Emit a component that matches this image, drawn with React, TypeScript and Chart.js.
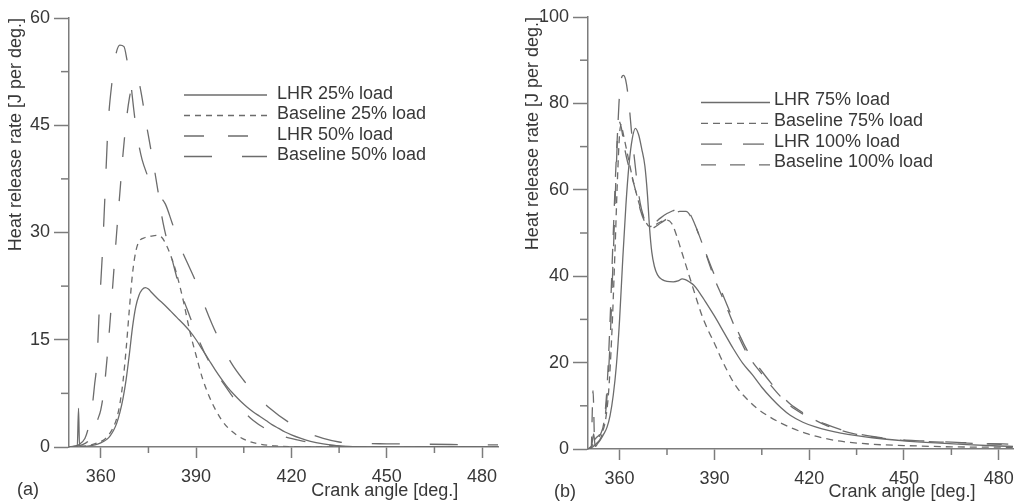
import React, { useEffect, useRef } from "react";
import { Chart, registerables } from "chart.js";

Chart.register(...registerables);

type Pt = [number, number];

// ---------- Panel (a) data: crank angle [deg], heat release rate [J/deg] ----------
const lhr25: Pt[] = [
  [350, 0], [352.6, 0], [353, 5.4], [353.3, 0.2], [355, 0.1], [357, 0.2], [359, 0.4], [361, 0.8],
  [362, 1.1], [363, 1.6], [364, 2.3], [365, 3.3], [366, 4.8], [367, 6.8], [368, 9.5], [369, 13],
  [370, 16.8], [371, 19.6], [372, 21.2], [373, 22], [374, 22.3], [375, 22.1], [376, 21.6], [378, 20.7],
  [380, 19.9], [382, 19], [384, 18.1], [386, 17.2], [388, 16.2], [390, 15], [392, 13.6], [394, 12.2],
  [396, 10.8], [398, 9.5], [400, 8.3], [402, 7.3], [404, 6.4], [406, 5.6], [408, 4.9], [410, 4.3],
  [412, 3.7], [414, 3.1], [416, 2.6], [418, 2.1], [420, 1.7], [423, 1.2], [426, 0.8], [430, 0.45],
  [435, 0.15], [440, 0.05], [450, 0], [485, 0],
];
const base25: Pt[] = [
  [350, 0], [354, 0.1], [357, 0.3], [359, 0.6], [361, 1], [362, 1.4], [363, 2], [364, 2.8], [365, 4],
  [366, 6], [367, 9.2], [368, 13.8], [369, 19.3], [370, 24.3], [371, 27.3], [372, 28.7], [374, 29.3],
  [376, 29.5], [378, 29.6], [379, 29.4], [380, 28.8], [382, 26.8], [384, 24], [386, 20.4], [388, 16.2],
  [390, 12.8], [392, 9.6], [394, 7.2], [396, 5.3], [398, 3.8], [400, 2.7], [403, 1.6], [406, 0.9],
  [410, 0.4], [415, 0.15], [420, 0.05], [430, 0], [485, 0],
];
const lhr50: Pt[] = [
  [350, 0], [354, 0.3], [356, 0.8], [357, 1.5], [358, 2.5], [359, 3.8], [360, 5.2], [361, 8],
  [362, 12.5], [363, 18], [364, 24], [365, 30], [366, 35.5], [367, 41], [368, 45.5], [369, 48.8],
  [370, 50.6], [371, 51.4], [372, 51], [373, 48.8], [374, 46], [375, 43.5], [376, 41], [377, 38.5],
  [378, 35.8], [379, 32.8], [380, 30.5], [382, 27], [385, 22], [388, 18.3], [391, 14.8], [394, 12],
  [397, 9.9], [400, 8], [404, 5.5], [408, 3.7], [413, 2.3], [418, 1.4], [424, 0.8], [430, 0.35],
  [436, 0.1], [445, 0], [485, 0],
];
const base50: Pt[] = [
  [350, 0], [353, 0.3], [355, 1.2], [356, 2.5], [357, 4.5], [358, 8.5], [358.8, 12], [359.5, 19],
  [360, 23], [360.5, 27], [361.3, 35], [362.3, 45], [363.6, 51.3], [364.7, 54.8], [366, 56.2],
  [367.3, 56], [368.3, 54], [369.2, 51.8], [370.3, 47.5], [371.2, 44.3], [372, 42.2], [373, 40.2],
  [374.5, 38.2], [376, 36.5], [378, 35.3], [380.3, 34], [382.4, 31.4], [385, 28], [387.2, 25.8],
  [390, 23], [392.2, 20.3], [395, 17.2], [397.5, 14.8], [401, 11.8], [405, 9.3], [409, 7.2],
  [413, 5.5], [419, 3.5], [425, 2], [430, 1.2], [435, 0.7], [440, 0.5], [450, 0.45], [460, 0.4],
  [470, 0.35], [485, 0.3],
];

// ---------- Panel (b) data ----------
const lhr75: Pt[] = [
  [350, 0], [351, 0.2], [351.8, 3.5], [352.3, 0.6], [353, 1.2], [354, 2.2], [355, 3.5], [356, 5],
  [357, 7.8], [358, 12.5], [359, 19.5], [360, 30], [361, 44], [362, 56.5], [363, 66], [364, 71.8],
  [365, 74.2], [366, 72.8], [367, 69.5], [368, 65.5], [368.8, 59], [369.5, 51], [370.2, 45.5],
  [371, 42.3], [372, 40.3], [373.5, 39.2], [375, 38.8], [377, 38.7], [378.5, 38.9], [379.8, 39.4],
  [380.8, 39.2], [382, 38.7], [383.5, 37.9], [385, 36.5], [387, 34.3], [390, 30.8], [393, 27],
  [396, 23.2], [399, 19.8], [402, 17.2], [405, 14.3], [408, 11.8], [411, 9.6], [414, 7.8], [418, 6.2],
  [422, 5.1], [426, 4.3], [430, 3.7], [435, 3.1], [440, 2.6], [450, 1.9], [460, 1.4], [470, 1.0],
  [480, 0.7], [484.5, 0.6],
];
const base75: Pt[] = [
  [350, 0], [351.5, 1], [352.5, 2.5], [353.5, 3.2], [354.5, 4], [355.5, 6.5], [356.5, 13], [357.5, 26],
  [358.5, 45], [359.3, 62], [360, 73], [360.5, 75], [361, 73.5], [362, 70], [363, 66.5], [364, 63],
  [365, 60], [366.5, 56], [368, 53], [369.5, 51.5], [371, 51.8], [373, 52.6], [375, 53], [376.5, 52.2],
  [378, 49.5], [379.5, 46], [381, 42.5], [382.5, 39], [384, 35.5], [386, 31], [388, 27.5], [390, 24.5],
  [392, 21.2], [394, 18.2], [396, 15.5], [398, 13.4], [400, 11.8], [403, 9.7], [406, 8.1], [410, 6.4],
  [414, 5], [419, 3.6], [424, 2.6], [430, 1.8], [440, 1.1], [450, 0.8], [465, 0.5], [484.5, 0.4],
];
const lhr100: Pt[] = [
  [350, 0], [351.5, 0.5], [353, 1.5], [354, 2.5], [355, 5], [356, 12], [357, 25], [358, 45], [359, 66],
  [359.8, 80], [360.5, 85.5], [361.2, 86.5], [361.9, 85.5], [362.9, 80.5], [363.7, 74], [364.5, 68.5],
  [365.5, 62], [366.5, 57], [367.5, 54], [368.5, 52.2], [369.5, 51.5], [371, 52.3], [373, 53.5],
  [375, 54.5], [377, 55.2], [379, 55.8], [380.5, 56], [382, 54.8], [384, 51.7], [386, 47.8], [388, 44],
  [390, 40.3], [392.5, 36], [395, 31.6], [398, 26.3], [401, 22], [405, 18], [408, 15.2], [411, 12.6],
  [414, 10.4], [418, 8.4], [421, 7.2], [425, 5.8], [430, 4.5], [435, 3.6], [440, 2.9], [448, 2.2],
  [455, 1.9], [465, 1.6], [475, 1.3], [484.5, 1.1],
];
const base100: Pt[] = [
  [350, 0], [351, 0.3], [351.6, 13.5], [352.1, 2], [353, 2.5], [354, 3.5], [355, 6], [356, 14], [357, 30],
  [358, 50], [359, 68], [359.7, 76], [360.5, 74.5], [361.5, 70], [362.5, 66.5], [363.5, 64], [365, 60],
  [366.5, 55.5], [368, 52.5], [369.5, 51], [371, 51.3], [373, 52.3], [375, 53.3], [377, 54.2], [379, 55],
  [381, 55], [383, 53.2], [385, 49.8], [387, 45.8], [390, 39.5], [392.5, 35.2], [395, 30.8], [398, 25.5],
  [401, 21.3], [405, 17.4], [408, 14.6], [411, 12.1], [414, 10], [418, 8.1], [421, 7], [425, 5.6],
  [430, 4.3], [435, 3.4], [440, 2.8], [448, 2.1], [455, 1.8], [465, 1.5], [475, 1.2], [484.5, 1.0],
];

// ---------- Labels and ticks ----------
const labelsA = ["LHR 25% load", "Baseline 25% load", "LHR 50% load", "Baseline 50% load"];
const labelsB = ["LHR 75% load", "Baseline 75% load", "LHR 100% load", "Baseline 100% load"];
const xTicks = [360, 390, 420, 450, 480];
const xMinor = [375, 405, 435, 465];
const yTicksA = [0, 15, 30, 45, 60];
const yMinorA = [7.5, 22.5, 37.5, 52.5];
const yTicksB = [0, 20, 40, 60, 80, 100];
const yMinorB = [10, 30, 50, 70, 90];
const xTitle = "Crank angle [deg.]";
const yTitle = "Heat release rate [J per deg.]";

// ---------- Styles ----------
const FAMILY = "'Liberation Sans', Arial, Helvetica, sans-serif";
const TEXT = "#383838";
const AXIS = "#7c7c7c";
const LINE = "#6c6c6c";

type Panel = {
  series: Pt[][];
  labels: string[];
  dashes: number[][];
  yTicks: number[];
  yMinor: number[];
  yMax: number;
  xMax: number;
  width: number;
  left: number;
  top: number;
  padRight: number;
  yAxisW: number;
  xAxisH: number;
  titlePad: number;
  legend: { x1: number; x2: number; tx: number; y0: number; dy: number; lineOff: number };
  panel: string;
  panelX: number;
  panelY: number;
  xTitleY: number;
};

const panels: Panel[] = [
  {
    series: [lhr25, base25, lhr50, base50],
    labels: labelsA,
    dashes: [[], [6, 5], [20, 24], [28, 30]],
    yTicks: yTicksA,
    yMinor: yMinorA,
    yMax: 60,
    xMax: 485,
    width: 508,
    left: 0,
    top: 18,
    padRight: 10,
    yAxisW: 69,
    xAxisH: 56,
    titlePad: 5,
    legend: { x1: 184, x2: 267, tx: 277, y0: 94, dy: 20.5, lineOff: 1 },
    panel: "(a)",
    panelX: 28,
    panelY: 490,
    xTitleY: 491,
  },
  {
    series: [lhr75, base75, lhr100, base100],
    labels: labelsB,
    dashes: [[], [7, 5], [21, 21], [15, 14]],
    yTicks: yTicksB,
    yMinor: yMinorB,
    yMax: 100,
    xMax: 484.5,
    width: 514,
    left: 508,
    top: 17,
    padRight: 6,
    yAxisW: 80,
    xAxisH: 54,
    titlePad: 14,
    legend: { x1: 193, x2: 262, tx: 266, y0: 100, dy: 20.8, lineOff: 2.5 },
    panel: "(b)",
    panelX: 57,
    panelY: 492,
    xTitleY: 492,
  },
];

function makeExtras(p: Panel) {
  return {
    id: "extras",
    afterDraw(chart: any) {
      const ctx = chart.ctx as CanvasRenderingContext2D;
      const xs = chart.scales.x;
      const ys = chart.scales.y;
      ctx.save();
      // minor ticks
      ctx.strokeStyle = AXIS;
      ctx.lineWidth = 1.5;
      ctx.setLineDash([]);
      for (const v of xMinor) {
        const px = xs.getPixelForValue(v);
        ctx.beginPath();
        ctx.moveTo(px, xs.top);
        ctx.lineTo(px, xs.top + 6);
        ctx.stroke();
      }
      for (const v of p.yMinor) {
        const py = ys.getPixelForValue(v);
        ctx.beginPath();
        ctx.moveTo(ys.right - 8, py);
        ctx.lineTo(ys.right, py);
        ctx.stroke();
      }
      // legend
      const L = p.legend;
      ctx.font = `18px ${FAMILY}`;
      chart.data.datasets.forEach((ds: any, i: number) => {
        const y = L.y0 + i * L.dy;
        ctx.strokeStyle = ds.borderColor;
        ctx.lineWidth = ds.borderWidth;
        ctx.setLineDash(ds.borderDash || []);
        ctx.beginPath();
        ctx.moveTo(L.x1, y + L.lineOff);
        ctx.lineTo(L.x2, y + L.lineOff);
        ctx.stroke();
        ctx.setLineDash([]);
        ctx.fillStyle = TEXT;
        ctx.textAlign = "left";
        ctx.textBaseline = "middle";
        ctx.fillText(ds.label, L.tx, y);
      });
      // x-axis title and panel letter
      ctx.fillStyle = TEXT;
      ctx.textAlign = "center";
      ctx.textBaseline = "middle";
      ctx.fillText(xTitle, xs.getPixelForValue(450) - 2, p.xTitleY);
      ctx.fillText(p.panel, p.panelX, p.panelY);
      ctx.restore();
    },
  };
}

function makeConfig(p: Panel): any {
  const font = { family: FAMILY, size: 18 };
  return {
    type: "line",
    data: {
      datasets: p.series.map((s, i) => ({
        label: p.labels[i],
        data: s.map(([x, y]) => ({ x, y })),
        borderColor: LINE,
        borderWidth: 1.3,
        borderDash: p.dashes[i],
        pointRadius: 0,
        fill: false,
        cubicInterpolationMode: "monotone",
      })),
    },
    options: {
      responsive: false,
      animation: false,
      events: [],
      layout: { padding: { top: p.top, right: p.padRight, left: 0, bottom: 0 } },
      plugins: { legend: { display: false }, tooltip: { enabled: false } },
      scales: {
        x: {
          type: "linear",
          min: 350,
          max: p.xMax,
          afterBuildTicks: (s: any) => {
            s.ticks = xTicks.map((v) => ({ value: v }));
          },
          afterFit: (s: any) => {
            s.height = p.xAxisH;
          },
          grid: { drawOnChartArea: false, drawTicks: true, tickLength: 11, tickColor: AXIS, tickWidth: 1.5 },
          border: { color: AXIS, width: 1.5 },
          ticks: { font, color: TEXT, padding: 8, maxRotation: 0, autoSkip: false, callback: (v: any) => String(v) },
        },
        y: {
          type: "linear",
          min: 0,
          max: p.yMax,
          afterBuildTicks: (s: any) => {
            s.ticks = p.yTicks.map((v) => ({ value: v }));
          },
          afterFit: (s: any) => {
            s.width = p.yAxisW;
          },
          grid: { drawOnChartArea: false, drawTicks: true, tickLength: 15, tickColor: AXIS, tickWidth: 1.5 },
          border: { color: AXIS, width: 1.5 },
          title: {
            display: true,
            text: yTitle,
            align: "end",
            color: TEXT,
            font,
            padding: { top: p.titlePad, bottom: 0 },
          },
          ticks: { font, color: TEXT, padding: 4, autoSkip: false, callback: (v: any) => String(v) },
        },
      },
    },
    plugins: [makeExtras(p)],
  };
}

function PanelChart({ p }: { p: Panel }) {
  const ref = useRef<HTMLCanvasElement | null>(null);
  useEffect(() => {
    if (!ref.current) return;
    const chart = new Chart(ref.current, makeConfig(p));
    return () => chart.destroy();
  }, [p]);
  return (
    <canvas
      ref={ref}
      width={p.width}
      height={503}
      style={{ position: "absolute", left: p.left, top: 0, width: p.width, height: 503 }}
    />
  );
}

export default function App() {
  return (
    <div
      style={{
        position: "fixed",
        left: 0,
        top: 0,
        width: 1016,
        height: 503,
        overflow: "hidden",
        background: "#ffffff",
      }}
    >
      {panels.map((p) => (
        <PanelChart key={p.panel} p={p} />
      ))}
    </div>
  );
}
